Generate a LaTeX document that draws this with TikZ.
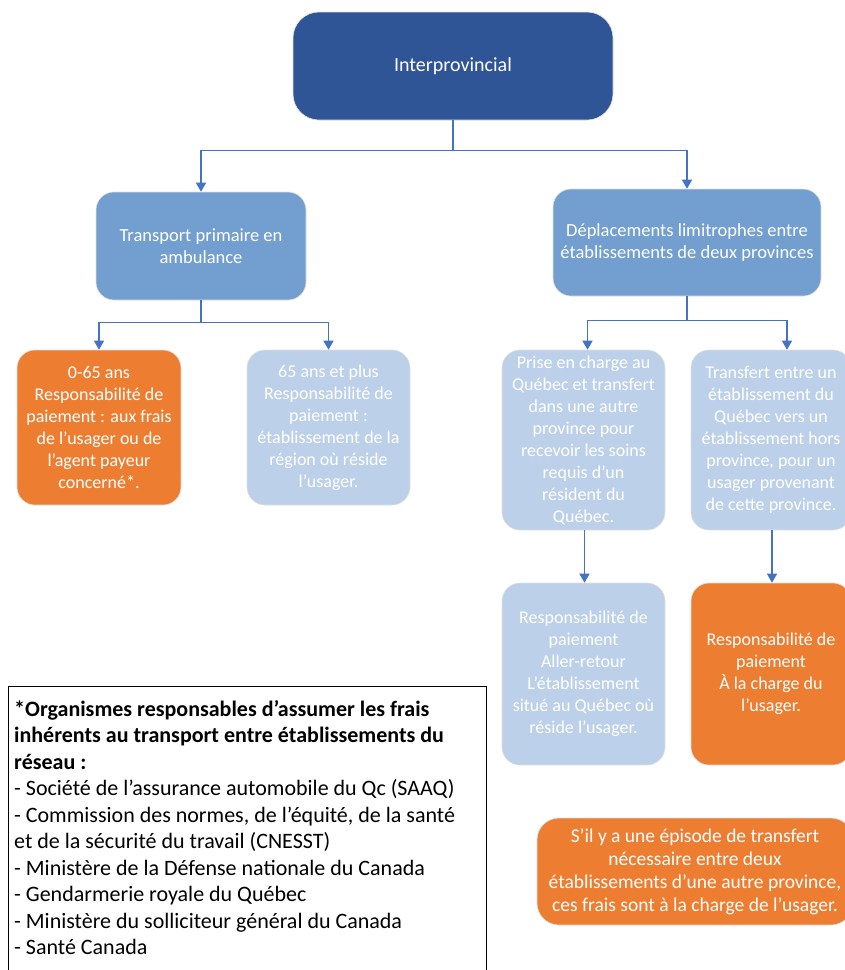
\documentclass[tikz,border=0pt]{standalone}
\usepackage{fontspec}
\setmainfont{Carlito}
\usetikzlibrary{arrows.meta,calc}
\definecolor{dkblue}{HTML}{2F5597}
\definecolor{mdblue}{HTML}{729FCF}
\definecolor{ltblue}{HTML}{BDD0E9}
\definecolor{orng}{HTML}{ED7D31}
\definecolor{connblue}{HTML}{4472C4}
\begin{document}
\begin{tikzpicture}[x=1pt,y=-1pt,
  box/.style={rounded corners=18pt, inner sep=0pt, align=center, text=white,
    font=\fontsize{18}{22}\selectfont, draw=black!12, line width=0.6pt},
  conn/.style={draw=connblue, line width=1.4pt},
  arr/.style={conn, -{Triangle[width=10pt,length=9pt]}}]
\useasboundingbox (0,0) rectangle (845,970);
\clip (0,0) rectangle (845,970);
\fill[white] (0,0) rectangle (845,970);

\node[box, fill=dkblue, rounded corners=26pt, minimum width=320pt, minimum height=108pt, font=\fontsize{20}{24}\selectfont] (top) at (453,66) {Interprovincial};

\node[box, fill=mdblue, minimum width=210pt, minimum height=108pt, font=\fontsize{18.5}{22.5}\selectfont] (trans) at (201,246) {Transport primaire en\\ambulance};
\node[box, fill=mdblue, minimum width=268pt, minimum height=107pt, font=\fontsize{18.5}{22.5}\selectfont] (dep) at (687,242.5) {Déplacements limitrophes entre\\établissements de deux provinces};

\node[box, fill=orng, minimum width=164pt, minimum height=155pt] (young) at (99,427.5) {0-65 ans\\Responsabilité de\\paiement : aux frais\\de l’usager ou de\\l’agent payeur\\concerné*.};
\node[box, fill=ltblue, minimum width=163pt, minimum height=155pt] (old) at (328.5,427.5) {65 ans et plus\\Responsabilité de\\paiement :\\établissement de la\\région où réside\\l’usager.};

\node[box, fill=ltblue, minimum width=163pt, minimum height=180pt] (prise) at (583.5,440) {Prise en charge au\\Québec et transfert\\dans une autre\\province pour\\recevoir les soins\\requis d’un\\résident du\\Québec.};
\node[box, fill=ltblue, minimum width=160pt, minimum height=180pt] (transf) at (771,440) {Transfert entre un\\établissement du\\Québec vers un\\établissement hors\\province, pour un\\usager provenant\\de cette province.};

\node[box, fill=ltblue, minimum width=163pt, minimum height=182pt] (aller) at (583.5,674) {Responsabilité de\\paiement\\Aller-retour\\L’établissement\\situé au Québec où\\réside l’usager.};
\node[box, fill=orng, minimum width=160pt, minimum height=182pt] (charge) at (771,674) {Responsabilité de\\paiement\\À la charge du\\l’usager.};

\node[box, fill=orng, rounded corners=22pt, minimum width=316pt, minimum height=107pt, font=\fontsize{19.5}{23}\selectfont] (episode) at (695,871.5) {S’il y a une épisode de transfert\\nécessaire entre deux\\établissements d’une autre province,\\ces frais sont à la charge de l’usager.};

\node[draw=black, line width=1.2pt, inner sep=0pt, minimum width=478pt, minimum height=300pt, anchor=north west] (notebox) at (8,686) {};
\node[anchor=north west, inner sep=0pt, align=left, font=\fontsize{22}{26.5}\selectfont] (notetext) at (14,700) {\textbf{*Organismes responsables d’assumer les frais}\\\textbf{inhérents au transport entre établissements du}\\\textbf{réseau :}\\- Société de l’assurance automobile du Qc (SAAQ)\\- Commission des normes, de l’équité, de la santé\\et de la sécurité du travail (CNESST)\\- Ministère de la Défense nationale du Canada\\- Gendarmerie royale du Québec\\- Ministère du solliciteur général du Canada\\- Santé Canada};

\draw[arr] (top.south) -- ++(0,30) -| (trans.north);
\draw[arr] (top.south) -- ++(0,30) -| (dep.north);
\draw[arr] (trans.south) -- ++(0,22) -| (young.north);
\draw[arr] (trans.south) -- ++(0,22) -| (old.north);
\draw[arr] (dep.south) -- ++(0,24) -| ($(prise.north)+(4,0)$);
\draw[arr] (dep.south) -- ++(0,24) -| ($(transf.north)+(16,0)$);
\draw[arr] ($(prise.south)+(1,0)$) -- ($(aller.north)+(1,0)$);
\draw[arr] ($(transf.south)+(1,0)$) -- ($(charge.north)+(1,0)$);
\end{tikzpicture}
\end{document}
